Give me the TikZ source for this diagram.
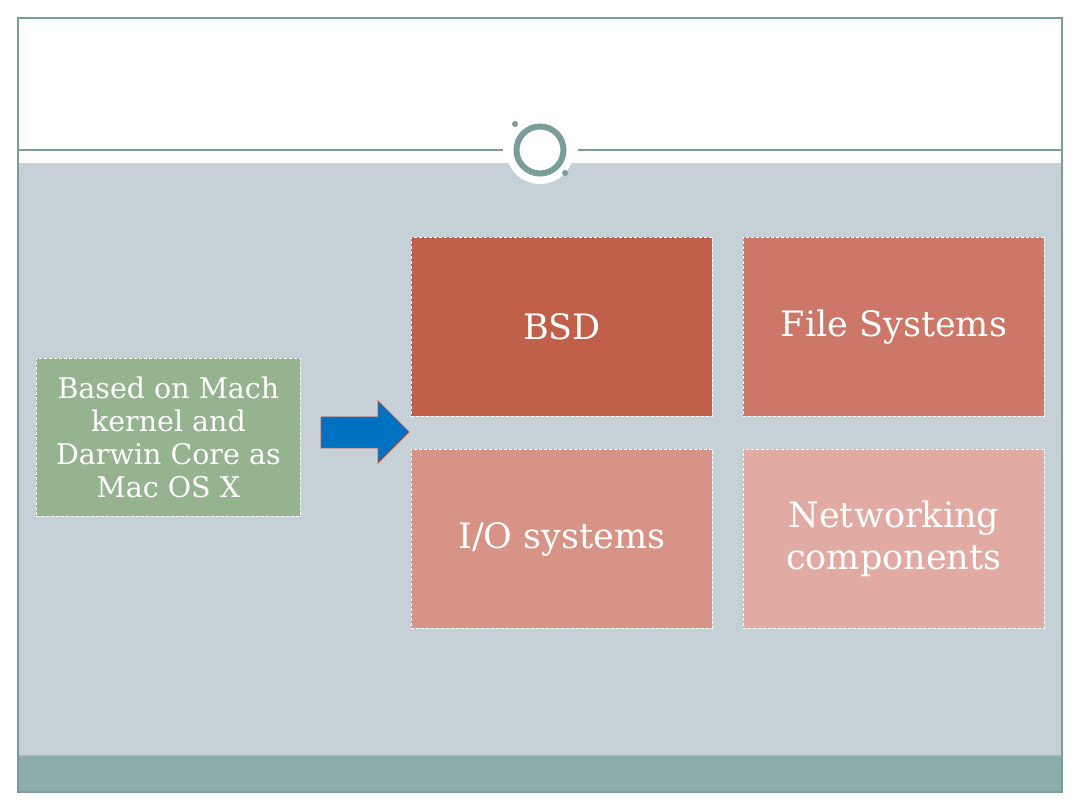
\documentclass[tikz,border=0pt]{standalone}
\usepackage{fontspec}
\setmainfont{DejaVu Serif}
\definecolor{teal1}{HTML}{7A9D99}
\definecolor{graybg}{HTML}{C5D1D7}
\definecolor{band}{HTML}{8DADAD}
\definecolor{c1}{HTML}{C0604A}
\definecolor{c2}{HTML}{CC7767}
\definecolor{c3}{HTML}{D69386}
\definecolor{c4}{HTML}{E1AAA3}
\definecolor{green1}{HTML}{94B38E}
\definecolor{arrowblue}{HTML}{0070C0}
\definecolor{arrowedge}{HTML}{C0504D}
\tikzset{
  box/.style={draw=white, dashed, dash pattern=on 3pt off 2pt, line width=0.8pt,
    minimum width=301pt, minimum height=179pt, inner sep=0pt, text=white,
    font=\fontsize{35}{42}\selectfont, align=center, anchor=north west},
  gbox/.style={draw=white, dashed, dash pattern=on 3pt off 2pt, line width=0.8pt,
    minimum width=264pt, minimum height=158pt, inner sep=0pt, text=white,
    font=\fontsize{28.5}{33}\selectfont, align=center, anchor=north west, fill=green1}
}
\begin{document}
\begin{tikzpicture}[x=1pt,y=-1pt]
\useasboundingbox (0,0) rectangle (1080,810);
\fill[white] (0,0) rectangle (1080,810);
% gray body
\fill[graybg] (18,163) rectangle (1062,755);
\fill[band] (18,755) rectangle (1062,792);
\draw[line width=0.6pt, color=band!80!black!60] (18,755) -- (1062,755);
% frame
\draw[teal1, line width=1.2pt] (18,18) rectangle (1062,792);
\draw[teal1, line width=2.2pt] (18,18) -- (18,792);
% header line
\draw[teal1, line width=1.2pt] (18,150) -- (503,150);
\draw[teal1, line width=1.2pt] (578,150) -- (1062,150);
% white disc behind circle
\fill[white] (540,150) circle (34);
% ring
\node (ring) [circle, draw=teal1, line width=6pt, minimum size=47pt, inner sep=0pt] at (540,150) {};
\fill[teal1] (515,124) circle (3);
\fill[teal1] (565,173) circle (3);
% boxes
\node (bsd) [box, fill=c1] at (411,237) {BSD};
\node (fs) [box, fill=c2] at (743,237) {File Systems};
\node (io) [box, fill=c3] at (411,449) {I/O systems};
\node (net) [box, fill=c4] at (743,449) {Networking\\components};
\node (mach) [gbox] at (36,358) {Based on Mach\\kernel and\\Darwin Core as\\Mac OS X};
% arrow
\draw[fill=arrowblue, draw=arrowedge, line width=0.8pt]
  (321,417) -- (378,417) -- (378,401) -- (409,432) -- (378,463) -- (378,448) -- (321,448) -- cycle;
\end{tikzpicture}
\end{document}
